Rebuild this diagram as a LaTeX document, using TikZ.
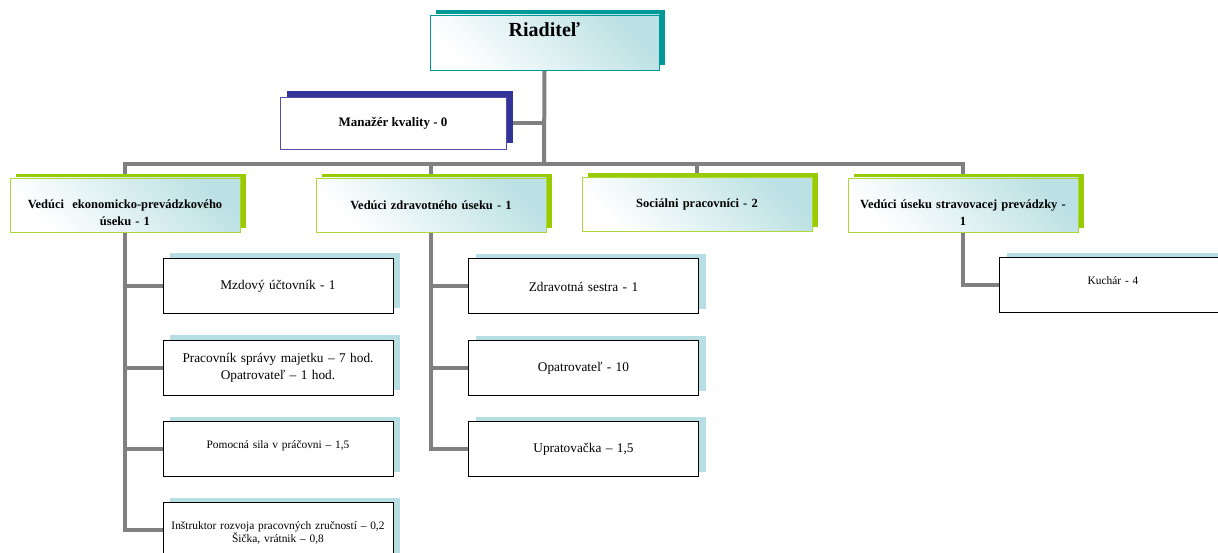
\documentclass[tikz,border=0pt]{standalone}
\usepackage{fontspec}
\setmainfont{Liberation Serif}
\usetikzlibrary{shadows,positioning,backgrounds}
\usepackage{color}

\definecolor{tealshadow}{RGB}{0,153,153}
\definecolor{tealfill}{RGB}{188,225,228}
\definecolor{navyshadow}{RGB}{51,51,153}
\definecolor{navyedge}{RGB}{80,80,170}
\definecolor{grnshadow}{RGB}{153,204,0}
\definecolor{grnedge}{RGB}{175,215,60}
\definecolor{blueshadow}{RGB}{183,222,226}
\definecolor{linkgray}{RGB}{128,128,128}

\newcommand\bigfs{\fontsize{13.3}{17}\selectfont}
\newcommand\smallfs{\fontsize{11.4}{12.5}\selectfont}

\tikzset{
  boss/.style={draw=tealshadow, line width=0.8pt, shading=axis,
    bottom color=white, top color=tealfill, shading angle=-45,
    general shadow={fill=tealshadow, shadow xshift=6pt, shadow yshift=5pt},
    minimum width=229pt, minimum height=55pt, inner sep=4pt,
    text height=18pt, text depth=29pt,
    font=\fontsize{20}{24}\selectfont\bfseries},
  qual/.style={draw=navyedge, line width=0.8pt, fill=white,
    general shadow={fill=navyshadow, shadow xshift=7pt, shadow yshift=6pt},
    minimum width=226pt, minimum height=52pt, inner sep=4pt,
    font=\fontsize{13}{17}\selectfont\bfseries},
  lead/.style={draw=grnedge, line width=0.8pt, shading=axis,
    bottom color=white, top color=tealfill, shading angle=-45,
    general shadow={fill=grnshadow, shadow xshift=6pt, shadow yshift=4pt},
    minimum width=230pt, minimum height=54pt, inner sep=4pt,
    text width=222pt, align=center,
    font=\fontsize{12.5}{17}\selectfont\bfseries},
  twoline/.style={text height=25pt},
  staff/.style={draw=black, line width=1pt, fill=white,
    general shadow={fill=blueshadow, shadow xshift=7pt, shadow yshift=5pt},
    minimum width=230pt, minimum height=55pt, inner sep=4pt,
    text width=222pt, align=center, font=\bigfs},
  txtbig/.style={font=\bigfs},
  txtup/.style={font=\smallfs, text depth=9pt},
  txtlow/.style={font=\smallfs, text height=14pt},
  link/.style={draw=linkgray, line width=4pt}
}

\begin{document}
\begin{tikzpicture}[x=1pt,y=-1pt]
\useasboundingbox (0,0) rectangle (1218,553);

% top
\node [boss] (boss) at (544.5,42.5) {Riaditeľ};
\node [qual] (qual) at (393,123) {Manažér kvality - 0};
\coordinate (bus) at (544,164);

% heads of sections
\node [lead, twoline] (lead1) at (125,205) {Vedúci~ ekonomicko-prevádzkového\\úseku - 1};
\node [lead] (lead2) at (431,205) {Vedúci zdravotného úseku - 1};
\node [lead] (lead3) at (697,204.5) {Sociálni pracovníci - 2};
\node [lead, twoline] (lead4) at (963,205) {Vedúci úseku stravovacej prevádzky -\\1};

% staff
\foreach \i / \y / \st / \element in {1/286/txtbig/{Mzdový účtovník - 1},
    2/367.5/txtbig/{Pracovník správy majetku – 7 hod.\\Opatrovateľ – 1 hod.},
    3/449/txtup/{Pomocná sila v práčovni – 1,5},
    4/530/txtlow/{Inštruktor rozvoja pracovných zručností – 0,2\\Šička, vrátnik – 0,8}}
  \node [staff, \st] (e\i) at (278,\y) {\element};

\foreach \i / \y / \element in {1/286.5/{Zdravotná sestra - 1},
    2/368/{Opatrovateľ - 10},
    3/449/{Upratovačka – 1,5}}
  \node [staff] (z\i) at (583.5,\y) {\element};

\node [staff, minimum width=227pt, text width=219pt, font=\smallfs, text depth=10pt] (k1) at (1113,285.5) {Kuchár - 4};

% connectors
\begin{scope}[on background layer]
\draw [link] (boss.south) -- (bus);
\draw [link] (qual.east) -- (qual.east -| bus);
\draw [link] (lead1.north) -- (lead1.north |- bus) -- (lead4.north |- bus) -- (lead4.north);
\draw [link] (lead2.north) -- (lead2.north |- bus);
\draw [link] (lead3.north) -- (lead3.north |- bus);

\draw [link] (lead1.south) |- (e4.west);
\foreach \i in {1,2,3}
  \draw [link] (e\i.west -| lead1.south) -- (e\i.west);

\draw [link] (lead2.south) |- (z3.west);
\foreach \i in {1,2}
  \draw [link] (z\i.west -| lead2.south) -- (z\i.west);

\draw [link] (lead4.south) |- (k1.west);
\end{scope}

\end{tikzpicture}
\end{document}
